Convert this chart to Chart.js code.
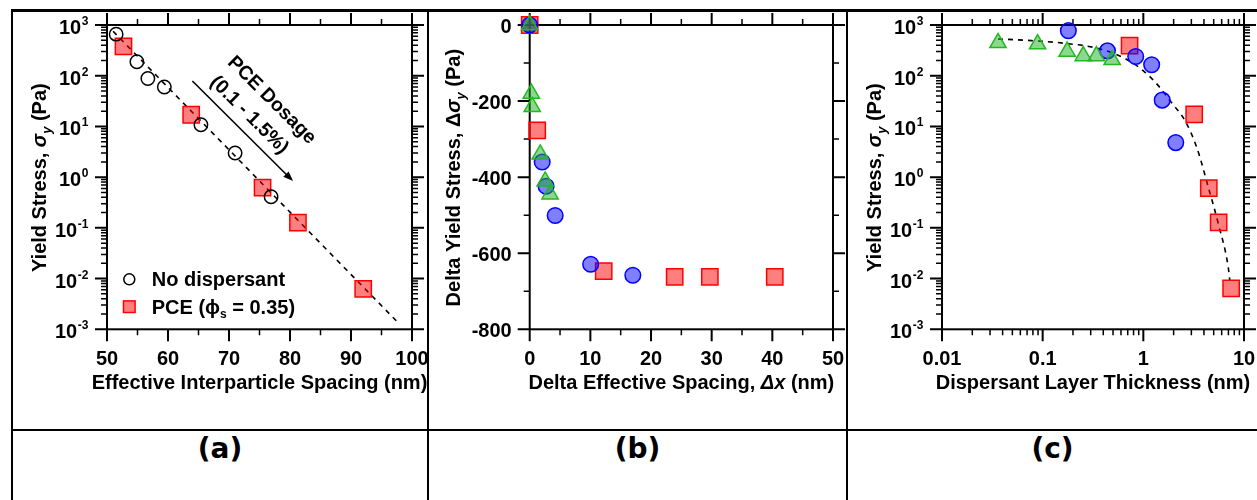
<!DOCTYPE html>
<html>
<head>
<meta charset="utf-8">
<script src="https://cdn.jsdelivr.net/npm/chart.js@4.4.1/dist/chart.umd.min.js"></script>
<style>
  html, body { margin: 0; padding: 0; background: #fff; }
  #fig { position: relative; width: 1257px; height: 500px; overflow: hidden; background: #fff; }
  .cell { position: absolute; top: 12px; overflow: hidden; }
  .rule { position: absolute; background: #000; }
  .tag { position: absolute; top: 432px; height: 40px; line-height: 40px; text-align: center;
         font: bold 28px "DejaVu Sans", Verdana, sans-serif; color: #000; }
  canvas { display: block; }
</style>
</head>
<body>
<div id="fig">
  <div class="cell" style="left:13px;width:414px;height:417px"><canvas id="chartA" width="414" height="417"></canvas></div>
  <div class="cell" style="left:429px;width:417px;height:417px"><canvas id="chartB" width="417" height="417"></canvas></div>
  <div class="cell" style="left:848px;width:409px;height:417px"><canvas id="chartC" width="409" height="417"></canvas></div>

  <div class="rule" style="left:11px;top:9px;width:1246px;height:3px"></div>
  <div class="rule" style="left:11px;top:9px;width:2px;height:491px"></div>
  <div class="rule" style="left:427px;top:9px;width:2px;height:491px"></div>
  <div class="rule" style="left:846px;top:9px;width:2px;height:491px"></div>
  <div class="rule" style="left:11px;top:429px;width:1246px;height:2px"></div>

  <div class="tag" style="left:13px;width:414px">(a)</div>
  <div class="tag" style="left:429px;width:417px">(b)</div>
  <div class="tag" style="left:848px;width:409px">(c)</div>
</div>

<script>
// ---------- Panel (a): yield stress vs effective interparticle spacing ----------
const A_NODISP_X = [51.5, 54.9, 56.7, 59.4, 65.4, 71.0, 76.9];
const A_NODISP_Y = [660, 188, 88, 60, 10.8, 3.0, 0.41];
const A_PCE_X = [52.7, 63.8, 75.5, 81.3, 92.0];
const A_PCE_Y = [380, 17, 0.62, 0.127, 0.0063];
const A_FIT_X = [51, 98];
const A_FIT_Y = [752, 0.00125];
const A_X_TICKS = [50, 60, 70, 80, 90, 100];
const A_X_MINOR = [55, 65, 75, 85, 95];

// ---------- Panel (b): delta yield stress vs delta spacing ----------
const B_BLUE_X = [0, 2.06, 2.7, 4.2, 10.05, 17.0];
const B_BLUE_Y = [0, -360, -424, -501, -629, -658];
const B_RED_X = [0, 1.24, 12.2, 23.9, 29.7, 40.4];
const B_RED_Y = [0, -277, -647, -662, -662, -662];
const B_GREEN_X = [0, 0.27, 0.42, 1.73, 2.55, 3.36];
const B_GREEN_Y = [0, -180, -215, -340, -411, -445];
const B_X_TICKS = [0, 10, 20, 30, 40, 50];
const B_X_MINOR = [5, 15, 25, 35, 45];
const B_Y_TICKS = [0, -200, -400, -600, -800];
const B_Y_MINOR = [-100, -300, -500, -700];

// ---------- Panel (c): yield stress vs dispersant layer thickness ----------
const C_BLUE_X = [0.18, 0.44, 0.84, 1.21, 1.54, 2.1];
const C_BLUE_Y = [773, 309, 239, 165, 33, 4.8];
const C_RED_X = [0.73, 3.2, 4.47, 5.6, 7.45];
const C_RED_Y = [390, 17.2, 0.61, 0.129, 0.0064];
const C_GREEN_X = [0.036, 0.089, 0.175, 0.253, 0.342, 0.49];
const C_GREEN_Y = [445, 420, 300, 245, 245, 205];
const C_FIT_X = [0.036, 0.0776, 0.165, 0.35, 0.65, 1.02, 1.38, 1.86, 2.61, 3.4, 4.43, 5.56, 6.97, 7.22];
const C_FIT_Y = [531, 492, 436, 348, 221, 121, 66.7, 31.3, 12.7, 3.8, 0.625, 0.12, 0.0169, 0.0093];
const C_X_TICKS = [0.01, 0.1, 1, 10];
const C_X_TICK_LABELS = ['0.01', '0.1', '1', '10'];

// Shared log axis for stress: powers of ten from 10^-3 to 10^3
const STRESS_EXPONENTS = [-3, -2, -1, 0, 1, 2, 3];

const FONT = '"Liberation Sans", Arial, Helvetica, sans-serif';
const bold = (px, italic) => `${italic ? 'italic ' : ''}bold ${px}px ${FONT}`;

const pts = (xs, ys) => xs.map((x, i) => ({ x, y: ys[i] }));

function logMinor(expLo, expHi) {
  const out = [];
  for (let e = expLo; e < expHi; e++) {
    for (let m = 2; m <= 9; m++) out.push(m * Math.pow(10, e));
  }
  return out;
}

// Multi-font text run, centred on (x, y) along the rotated baseline
function drawRich(ctx, segs, x, y, rot) {
  ctx.save();
  ctx.translate(x, y);
  ctx.rotate(rot || 0);
  ctx.textAlign = 'left';
  ctx.textBaseline = 'alphabetic';
  let w = 0;
  for (const s of segs) { ctx.font = s.font; w += ctx.measureText(s.t).width; }
  let cx = -w / 2;
  for (const s of segs) {
    ctx.font = s.font;
    ctx.fillText(s.t, cx, s.dy || 0);
    cx += ctx.measureText(s.t).width;
  }
  ctx.restore();
}

function drawRichLeft(ctx, segs, x, y) {
  ctx.save();
  ctx.textAlign = 'left';
  ctx.textBaseline = 'alphabetic';
  let cx = x;
  for (const s of segs) {
    ctx.font = s.font;
    ctx.fillText(s.t, cx, y + (s.dy || 0));
    cx += ctx.measureText(s.t).width;
  }
  ctx.restore();
}

// "10" with a raised exponent, right-aligned at xRight
function drawPower(ctx, exp, xRight, yTick) {
  const e = String(exp);
  ctx.font = bold(12);
  const ew = ctx.measureText(e).width;
  ctx.font = bold(20);
  const bw = ctx.measureText('10').width;
  const x0 = xRight - ew - bw - 0.5;
  ctx.textAlign = 'left';
  ctx.textBaseline = 'alphabetic';
  ctx.fillText('10', x0, yTick + 9);
  ctx.font = bold(12);
  ctx.fillText(e, x0 + bw + 0.5, yTick);
}

// Frame, four-sided outward ticks, tick labels and axis titles
function axesPlugin(cfg) {
  return {
    id: 'frameAxes',
    beforeDatasetsDraw(chart) {
      const { ctx, chartArea: a } = chart;
      const x = chart.scales.x, y = chart.scales.y;
      ctx.save();
      ctx.strokeStyle = '#000';
      ctx.lineCap = 'butt';
      const xt = (vals, len, lw) => {
        ctx.lineWidth = lw;
        ctx.beginPath();
        for (const v of vals) {
          const p = x.getPixelForValue(v);
          ctx.moveTo(p, a.bottom); ctx.lineTo(p, a.bottom + len);
          ctx.moveTo(p, a.top); ctx.lineTo(p, a.top - len);
        }
        ctx.stroke();
      };
      const yt = (vals, len, lw) => {
        ctx.lineWidth = lw;
        ctx.beginPath();
        for (const v of vals) {
          const p = y.getPixelForValue(v);
          ctx.moveTo(a.left, p); ctx.lineTo(a.left - len, p);
          ctx.moveTo(a.right, p); ctx.lineTo(a.right + len, p);
        }
        ctx.stroke();
      };
      xt(cfg.xMajor, 12, 2);
      xt(cfg.xMinor, 6, 1.5);
      yt(cfg.yMajor, 12, 2);
      yt(cfg.yMinor, 6, 1.5);
      ctx.lineWidth = 2;
      ctx.strokeRect(a.left, a.top, a.right - a.left, a.bottom - a.top);
      ctx.restore();
    },
    afterDatasetsDraw(chart) {
      const { ctx, chartArea: a } = chart;
      const x = chart.scales.x, y = chart.scales.y;
      ctx.save();
      ctx.fillStyle = '#000';
      // x tick labels
      ctx.font = bold(20);
      ctx.textAlign = 'center';
      ctx.textBaseline = 'alphabetic';
      cfg.xMajor.forEach((v, i) => {
        ctx.fillText(cfg.xLabels[i], x.getPixelForValue(v), a.bottom + 35.7);
      });
      // y tick labels
      if (cfg.yPowers) {
        cfg.yPowers.forEach(e => drawPower(ctx, e, a.left - 18.7, y.getPixelForValue(Math.pow(10, e))));
      } else {
        ctx.font = bold(20);
        ctx.textAlign = 'right';
        cfg.yMajor.forEach(v => ctx.fillText(String(v), a.left - 18, y.getPixelForValue(v) + 7.5));
      }
      // axis titles
      drawRich(ctx, cfg.xTitle, (a.left + a.right) / 2, a.bottom + 59.2, 0);
      drawRich(ctx, cfg.yTitle, a.left - cfg.yTitleGap, (a.top + a.bottom) / 2 + 0.5, -Math.PI / 2);
      if (cfg.extra) cfg.extra(chart);
      ctx.restore();
    }
  };
}

const STRESS_TITLE = [
  { t: 'Yield Stress, ', font: bold(20) },
  { t: 'σ', font: bold(20, true) },
  { t: 'y', font: bold(13, true), dy: 5 },
  { t: ' (Pa)', font: bold(20) }
];

const baseOptions = (padding, xScale, yScale) => ({
  responsive: false,
  animation: false,
  devicePixelRatio: 1,
  events: [],
  layout: { padding },
  plugins: { legend: { display: false }, tooltip: { enabled: false } },
  scales: { x: Object.assign({ display: false }, xScale), y: Object.assign({ display: false }, yScale) }
});

const markerBlue = { pointStyle: 'circle', pointRadius: 7.8, backgroundColor: 'rgba(0,0,255,0.5)', borderColor: '#0000ff', borderWidth: 1.5 };
const markerRed = { pointStyle: 'rect', pointRadius: 11.5, backgroundColor: 'rgba(255,0,0,0.5)', borderColor: '#ff0000', borderWidth: 1.5 };
const markerGreen = { pointStyle: 'triangle', pointRadius: 9.4, backgroundColor: 'rgba(30,175,30,0.5)', borderColor: '#22b822', borderWidth: 1.5 };
const dashed = { type: 'line', showLine: true, pointRadius: 0, borderColor: '#000', borderWidth: 1.6, borderDash: [5, 5], fill: false, clip: false };

// ---------- (a) ----------
new Chart(document.getElementById('chartA'), {
  type: 'scatter',
  data: {
    datasets: [
      { label: 'No dispersant', data: pts(A_NODISP_X, A_NODISP_Y), pointStyle: 'circle', pointRadius: 6.7,
        backgroundColor: 'rgba(0,0,0,0)', borderColor: '#000', borderWidth: 1.5, clip: false },
      Object.assign({ label: 'PCE', data: pts(A_PCE_X, A_PCE_Y), clip: false }, markerRed),
      Object.assign({ label: 'fit', data: pts(A_FIT_X, A_FIT_Y) }, dashed)
    ]
  },
  options: baseOptions({ left: 94, right: 15, top: 11.3, bottom: 99.7 },
    { type: 'linear', min: 50, max: 100 },
    { type: 'logarithmic', min: 1e-3, max: 1e3 }),
  plugins: [axesPlugin({
    xMajor: A_X_TICKS, xMinor: A_X_MINOR, xLabels: A_X_TICKS.map(String),
    yMajor: STRESS_EXPONENTS.map(e => Math.pow(10, e)), yMinor: logMinor(-3, 3), yPowers: STRESS_EXPONENTS,
    xTitle: [{ t: 'Effective Interparticle Spacing (nm)', font: bold(20) }],
    yTitle: STRESS_TITLE, yTitleGap: 61.5,
    extra(chart) {
      const { ctx, chartArea: a } = chart;
      const x = chart.scales.x, y = chart.scales.y;
      // legend
      const lx = a.left + 22.3;
      const ly1 = a.bottom - 50, ly2 = a.bottom - 22.6;
      ctx.lineWidth = 1.5;
      ctx.strokeStyle = '#000';
      ctx.beginPath(); ctx.arc(lx, ly1, 5.5, 0, Math.PI * 2); ctx.stroke();
      ctx.fillStyle = 'rgba(255,0,0,0.5)';
      ctx.strokeStyle = '#ff0000';
      ctx.fillRect(lx - 5.8, ly2 - 5.8, 11.6, 11.6);
      ctx.strokeRect(lx - 5.8, ly2 - 5.8, 11.6, 11.6);
      ctx.fillStyle = '#000';
      drawRichLeft(ctx, [{ t: 'No dispersant', font: bold(20) }], a.left + 44.7, ly1 + 7);
      drawRichLeft(ctx, [
        { t: 'PCE (', font: bold(20) },
        { t: 'ϕ', font: bold(20) },
        { t: 's', font: bold(12), dy: 4 },
        { t: ' = 0.35)', font: bold(20) }
      ], a.left + 44.7, ly2 + 7);
      // dosage arrow
      const x0 = x.getPixelForValue(64.0), y0 = y.getPixelForValue(78.7);
      const x1 = x.getPixelForValue(80.5), y1 = y.getPixelForValue(0.835);
      const ang = Math.atan2(y1 - y0, x1 - x0);
      ctx.strokeStyle = '#000';
      ctx.lineWidth = 1.6;
      ctx.beginPath();
      ctx.moveTo(x0, y0);
      ctx.lineTo(x1 - 8 * Math.cos(ang), y1 - 8 * Math.sin(ang));
      ctx.stroke();
      ctx.beginPath();
      ctx.moveTo(x1, y1);
      ctx.lineTo(x1 - 10 * Math.cos(ang) + 3.8 * Math.sin(ang), y1 - 10 * Math.sin(ang) - 3.8 * Math.cos(ang));
      ctx.lineTo(x1 - 10 * Math.cos(ang) - 3.8 * Math.sin(ang), y1 - 10 * Math.sin(ang) + 3.8 * Math.cos(ang));
      ctx.closePath();
      ctx.fill();
      ctx.save();
      ctx.textBaseline = 'middle';
      ctx.textAlign = 'center';
      ctx.font = bold(19.5);
      [['PCE Dosage', 77.0, 32.8], ['(0.1 - 1.5%)', 73.3, 16.7]].forEach(([t, dx, dy]) => {
        ctx.save();
        ctx.translate(x.getPixelForValue(dx), y.getPixelForValue(dy));
        ctx.rotate(ang);
        ctx.fillText(t, 0, 0);
        ctx.restore();
      });
      ctx.restore();
    }
  })]
});

// ---------- (b) ----------
new Chart(document.getElementById('chartB'), {
  type: 'scatter',
  data: {
    datasets: [
      Object.assign({ label: 'green', data: pts(B_GREEN_X, B_GREEN_Y), clip: false }, markerGreen),
      Object.assign({ label: 'blue', data: pts(B_BLUE_X, B_BLUE_Y), clip: false }, markerBlue),
      Object.assign({ label: 'red', data: pts(B_RED_X, B_RED_Y), clip: false }, markerRed)
    ]
  },
  options: baseOptions({ left: 100.7, right: 9.7, top: 11.3, bottom: 99.7 },
    { type: 'linear', min: 0, max: 50 },
    { type: 'linear', min: -800, max: 0 }),
  plugins: [axesPlugin({
    xMajor: B_X_TICKS, xMinor: B_X_MINOR, xLabels: B_X_TICKS.map(String),
    yMajor: B_Y_TICKS, yMinor: B_Y_MINOR,
    xTitle: [
      { t: 'Delta Effective Spacing, ', font: bold(20) },
      { t: 'Δx', font: bold(20, true) },
      { t: ' (nm)', font: bold(20) }
    ],
    yTitle: [
      { t: 'Delta Yield Stress, Δ', font: bold(20) },
      { t: 'σ', font: bold(20, true) },
      { t: 'y', font: bold(13, true), dy: 5 },
      { t: ' (Pa)', font: bold(20) }
    ],
    yTitleGap: 69.7
  })]
});

// ---------- (c) ----------
new Chart(document.getElementById('chartC'), {
  type: 'scatter',
  data: {
    datasets: [
      Object.assign({ label: 'green', data: pts(C_GREEN_X, C_GREEN_Y), clip: false }, markerGreen),
      Object.assign({ label: 'blue', data: pts(C_BLUE_X, C_BLUE_Y), clip: false }, markerBlue),
      Object.assign({ label: 'red', data: pts(C_RED_X, C_RED_Y), clip: false }, markerRed),
      Object.assign({ label: 'fit', data: pts(C_FIT_X, C_FIT_Y), cubicInterpolationMode: 'monotone' }, dashed)
    ]
  },
  options: baseOptions({ left: 94, right: 9.3, top: 11.3, bottom: 99.7 },
    { type: 'logarithmic', min: 0.01, max: 10 },
    { type: 'logarithmic', min: 1e-3, max: 1e3 }),
  plugins: [axesPlugin({
    xMajor: C_X_TICKS, xMinor: logMinor(-2, 1), xLabels: C_X_TICK_LABELS,
    yMajor: STRESS_EXPONENTS.map(e => Math.pow(10, e)), yMinor: logMinor(-3, 3), yPowers: STRESS_EXPONENTS,
    xTitle: [{ t: 'Dispersant Layer Thickness (nm)', font: bold(20) }],
    yTitle: STRESS_TITLE, yTitleGap: 61.5
  })]
});
</script>
</body>
</html>
